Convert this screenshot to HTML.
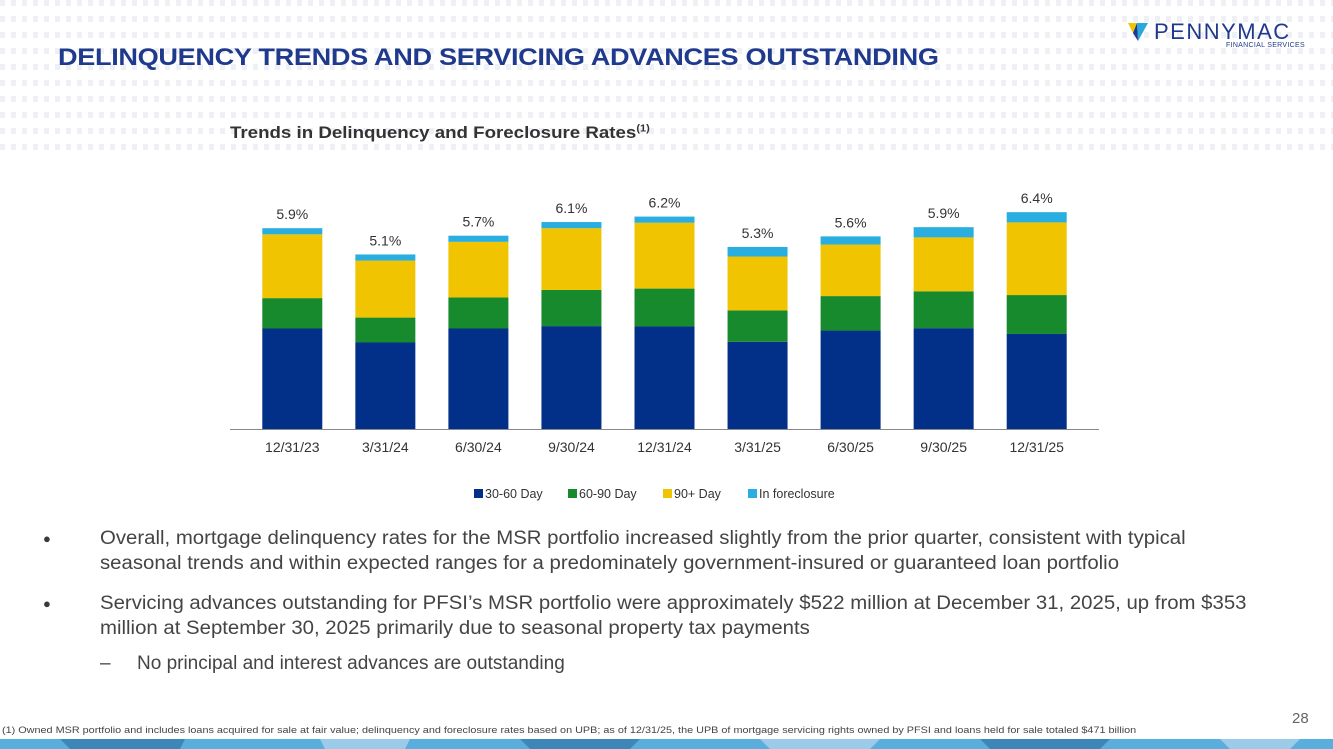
<!DOCTYPE html>
<html><head><meta charset="utf-8"><style>
body{margin:0;width:1333px;height:749px;overflow:hidden;background:#fff;font-family:"Liberation Sans",sans-serif;position:relative}
.bg{position:absolute;left:0;top:0;width:1333px;height:158px;background-image:repeating-linear-gradient(90deg,#eef0f5 0 5px,transparent 5px 11px);-webkit-mask:repeating-linear-gradient(180deg,#000 0 6px,transparent 6px 16px);mask:repeating-linear-gradient(180deg,#000 0 6px,transparent 6px 16px)}
.t{position:absolute;white-space:nowrap;transform-origin:0 0}
</style></head><body>
<div class="bg"></div>
<div class="t" style="left:58px;top:44px;font-size:24px;font-weight:bold;color:#1f3a8c;letter-spacing:-0.3px;transform:scaleX(1.13)">DELINQUENCY TRENDS AND SERVICING ADVANCES OUTSTANDING</div>
<div style="position:absolute;left:1128px;top:20px;width:190px;height:30px">
 <svg width="20" height="18" style="position:absolute;left:0;top:3px"><polygon points="0,0 9,0 5,10" fill="#f0c400"/><polygon points="9,0 20,0 10,18" fill="#2aa8dc"/><polygon points="5,10 9,0 10,18" fill="#1f3a8c"/></svg>
 <div class="t" style="left:26px;top:-1px;font-size:22px;color:#1f3a8c;letter-spacing:1.5px">PENNYMAC</div>
 <div class="t" style="left:98px;top:22px;font-size:7px;color:#1f3a8c;letter-spacing:0.3px">FINANCIAL SERVICES</div>
</div>
<div class="t" style="left:230px;top:123px;font-size:17px;font-weight:bold;color:#333;transform:scaleX(1.1)">Trends in Delinquency and Foreclosure Rates<sup style="font-size:10px">(1)</sup></div>
<svg id="chart" width="1333" height="749" style="position:absolute;left:0;top:0"></svg>
<div class="t" style="left:43px;top:531px;font-size:13px;color:#3a3a3a">●</div>
<div class="t" style="left:100px;top:526px;font-size:19px;color:#444;line-height:25px;transform:scaleX(1.072)">Overall, mortgage delinquency rates for the MSR portfolio increased slightly from the prior quarter, consistent with typical<br>seasonal trends and within expected ranges for a predominately government-insured or guaranteed loan portfolio</div>
<div class="t" style="left:43px;top:596px;font-size:13px;color:#3a3a3a">●</div>
<div class="t" style="left:100px;top:591px;font-size:19px;color:#444;line-height:25px;transform:scaleX(1.072)">Servicing advances outstanding for PFSI’s MSR portfolio were approximately $522 million at December 31, 2025, up from $353<br>million at September 30, 2025 primarily due to seasonal property tax payments</div>
<div class="t" style="left:100px;top:653px;font-size:19px;color:#444">–</div>
<div class="t" style="left:137px;top:653px;font-size:19px;color:#444">No principal and interest advances are outstanding</div>
<div class="t" style="left:2px;top:725px;font-size:9.5px;color:#444;transform:scaleX(1.14)">(1) Owned MSR portfolio and includes loans acquired for sale at fair value; delinquency and foreclosure rates based on UPB; as of 12/31/25, the UPB of mortgage servicing rights owned by PFSI and loans held for sale totaled $471 billion</div>
<div class="t" style="left:1292px;top:710px;font-size:15px;color:#666">28</div>
<svg width="1333" height="10" style="position:absolute;left:0;top:739px">
<rect x="0" y="0" width="1333" height="10" fill="#5aaedd"/>
<polygon points="60,0 185,0 180,10 70,10" fill="#3d86b8"/><polygon points="320,0 410,0 405,10 325,10" fill="#9ccbea"/><polygon points="520,0 640,0 630,10 530,10" fill="#3d86b8"/><polygon points="760,0 880,0 870,10 770,10" fill="#9ccbea"/><polygon points="980,0 1110,0 1100,10 990,10" fill="#3d86b8"/><polygon points="1220,0 1300,0 1290,10 1230,10" fill="#9ccbea"/>
</svg>
<script>
const categories=["12/31/23","3/31/24","6/30/24","9/30/24","12/31/24","3/31/25","6/30/25","9/30/25","12/31/25"];
const s3060=[2.96,2.55,2.96,3.03,3.02,2.57,2.90,2.97,2.80];
const s6090=[0.89,0.73,0.91,1.06,1.11,0.92,1.01,1.08,1.14];
const s90p=[1.87,1.67,1.63,1.81,1.93,1.58,1.51,1.58,2.13];
const sFore=[0.18,0.18,0.18,0.18,0.18,0.28,0.24,0.30,0.30];
const totals=["5.9%","5.1%","5.7%","6.1%","6.2%","5.3%","5.6%","5.9%","6.4%"];
const seriesNames=["30-60 Day","60-90 Day","90+ Day","In foreclosure"];
const colors=["#022f87","#178a2e","#f0c400","#2aaee0"];
const NS="http://www.w3.org/2000/svg";
const svg=document.getElementById("chart");
const base=429.5,ppu=34.12,x0=292.3,step=93.05,bw=60;
const xS=i=>x0+i*step;
const yS=v=>base-v*ppu;
function mk(t,a){const e=document.createElementNS(NS,t);for(const k in a)e.setAttribute(k,a[k]);svg.appendChild(e);return e;}
const series=[s3060,s6090,s90p,sFore];
categories.forEach((c,i)=>{
  let cum=0;
  series.forEach((s,k)=>{
    const r=mk("rect",{x:xS(i)-bw/2,y:yS(cum+s[i]),width:bw,height:s[i]*ppu,fill:colors[k]});
    
    
    cum+=s[i];
  });
  const t=mk("text",{x:xS(i),y:yS(cum)-9,"text-anchor":"middle","font-size":"14","fill":"#333","font-family":"Liberation Sans"});
  t.textContent=totals[i];
  
  
  const xl=mk("text",{x:xS(i),y:452,"text-anchor":"middle","font-size":"14","fill":"#333","font-family":"Liberation Sans"});
  xl.textContent=c;
  
  
});
const ax=mk("line",{x1:230,x2:1099,y1:base,y2:base,stroke:"#888","stroke-width":1});


let lx=[474,568,663,748];
seriesNames.forEach((n,k)=>{
  const r=mk("rect",{x:lx[k],y:489,width:9,height:9,fill:colors[k]});
  
  
  const t=mk("text",{x:lx[k]+11,y:498,"font-size":"12.5","fill":"#333","font-family":"Liberation Sans"});
  t.textContent=n;
  
  
});
</script>
</body></html>
